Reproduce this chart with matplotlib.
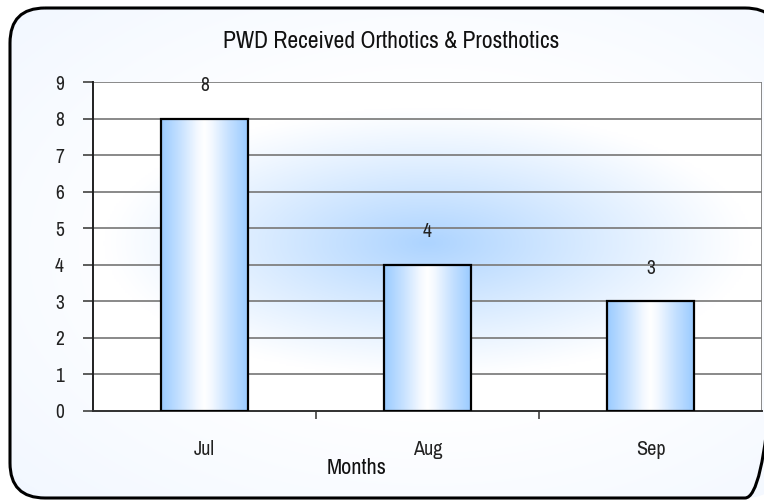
import numpy as np
import matplotlib
matplotlib.use("Agg")
import matplotlib.pyplot as plt
from matplotlib.patches import FancyBboxPatch
from matplotlib.colors import LinearSegmentedColormap
from matplotlib import font_manager

categories = ["Jul", "Aug", "Sep"]
values = [8, 4, 3]
yticks = [0, 1, 2, 3, 4, 5, 6, 7, 8, 9]
title = "PWD Received Orthotics & Prosthotics"
xlabel = "Months"

names = {f.name for f in font_manager.fontManager.ttflist}
fam = [f for f in ["Archivo Narrow", "PT Sans Narrow", "Roboto Condensed"] if f in names] + ["DejaVu Sans"]
plt.rcParams["font.family"] = fam

fig = plt.figure(figsize=(7.64, 5.0), dpi=100)

# background
bg = fig.add_axes([0, 0, 1, 1], zorder=0)
bg.set_xlim(0, 764)
bg.set_ylim(500, 0)
bg.axis("off")
yy, xx = np.mgrid[0:500, 0:764]
d = np.sqrt(((xx - 430) / 420.0) ** 2 + ((yy - 250) / 260.0) ** 2)
t = np.clip(d - 0.6, 0, 1) * 0.55
edge = np.array([0.88, 0.93, 1.0])
img = np.ones((500, 764, 3)) * (1 - t[..., None]) + edge * t[..., None]
clip = FancyBboxPatch((10, 8), 770, 490, boxstyle="round,pad=0,rounding_size=35",
                      transform=bg.transData, facecolor="none", edgecolor="none")
bg.add_patch(clip)
im = bg.imshow(img, extent=(0, 764, 500, 0), zorder=0)
im.set_clip_path(clip)
frame = FancyBboxPatch((10, 8), 770, 490, boxstyle="round,pad=0,rounding_size=35",
                       facecolor="none", edgecolor="black", linewidth=2.2, zorder=2)
bg.add_patch(frame)

# main axes
ax = fig.add_axes([93 / 764, 89 / 500, 669 / 764, 329 / 500], zorder=1)
ax.set_xlim(-0.5, len(categories) - 0.5)
ax.set_ylim(0, 9)
ax.patch.set_alpha(0)

# glow in plot area
gy, gx = np.mgrid[0:200, 0:300]
gxn = gx / 299.0 * 3 - 0.5
gyn = gy / 199.0 * 9
r = np.sqrt(((gxn - 1.0) / 1.45) ** 2 + ((gyn - 4.6) / 3.7) ** 2)
a = np.clip(1 - r, 0, 1) ** 1.1
glow = np.array([0.62, 0.80, 1.0])
gimg = np.ones((200, 300, 3)) * (1 - a[..., None] * 0.85) + glow * (a[..., None] * 0.85)
ax.imshow(gimg, extent=(-0.5, 2.5, 0, 9), origin="lower", aspect="auto", zorder=0)

for y in yticks[1:]:
    ax.axhline(y, color="#808080", linewidth=1.3, zorder=1)
ax.axvline(2.5, color="#808080", linewidth=1.3, zorder=1)

# bars
bw = 0.39
grad = LinearSegmentedColormap.from_list(
    "g", [(0, "#9ACBFF"), (0.22, "#C6E1FF"), (0.42, "#F4F9FF"), (0.5, "#FFFFFF"),
          (0.58, "#F4F9FF"), (0.78, "#C6E1FF"), (1, "#9ACBFF")])
gradimg = np.linspace(0, 1, 256)[None, :]
bars = ax.bar(range(len(categories)), values, width=bw, facecolor="none",
              edgecolor="black", linewidth=1.6, zorder=3)
for b in bars:
    x0 = b.get_x()
    h = b.get_height()
    ax.imshow(gradimg, cmap=grad, extent=(x0, x0 + bw, 0, h), aspect="auto", zorder=2)
ax.set_xlim(-0.5, len(categories) - 0.5)
ax.set_ylim(0, 9)
for i, v in enumerate(values):
    ax.text(i, v + 0.9, str(v), ha="center", va="center", fontsize=14, color="#222222")

ax.set_yticks(yticks)
ax.set_yticklabels([str(y) for y in yticks], fontsize=14, color="#222222")
ax.tick_params(axis="y", length=7, width=1.2, color="#404040", pad=14)
ax.set_xticks([0.5, 1.5])
ax.set_xticklabels([])
ax.set_xticks(range(len(categories)), minor=True)
ax.set_xticklabels(categories, minor=True, fontsize=14.5, color="#222222")
ax.tick_params(axis="x", which="major", length=6, width=1.2, color="#404040", direction="out")
ax.tick_params(axis="x", which="minor", length=0, pad=21)
for s in ["top", "right"]:
    ax.spines[s].set_visible(False)
ax.spines["left"].set_color("#202020")
ax.spines["left"].set_linewidth(1.4)
ax.spines["bottom"].set_color("#303030")
ax.spines["bottom"].set_linewidth(1.4)

fig.text(391 / 764, 1 - 41 / 500, title, ha="center", va="center", fontsize=17, color="#111111")
fig.text(357 / 764, 1 - 468 / 500, xlabel, ha="center", va="center", fontsize=16, color="#111111")

fig.savefig("out.png", dpi=100)
